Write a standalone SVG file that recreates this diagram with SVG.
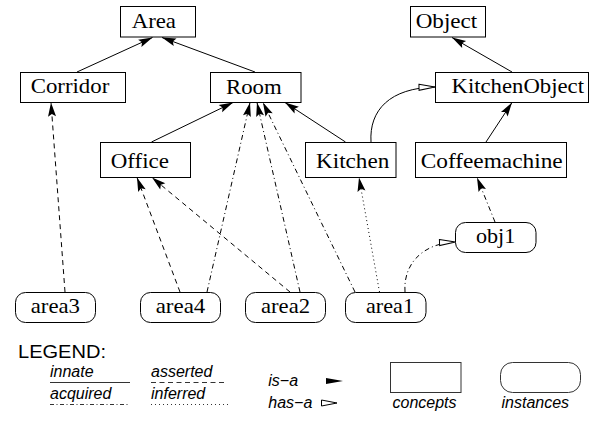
<svg xmlns="http://www.w3.org/2000/svg" width="600" height="421" viewBox="0 0 600 421">
<style>
.box{fill:#fff;stroke:#000;stroke-width:1}
.lab{font-size:21px;fill:#000}
.leg{font-size:16px;font-style:italic;fill:#000}
.e{fill:none;stroke:#000;stroke-width:1}
.dash{stroke-dasharray:5,4}
.dd{stroke-dasharray:5,3,1,3}
.dot{stroke-dasharray:1,3}
.isa{marker-end:url(#isa)}
.hasa{marker-end:url(#hasa)}
.lg{fill:none;stroke:#333;stroke-width:1}
</style>
<defs>
<marker id="isa" markerUnits="userSpaceOnUse" markerWidth="14" markerHeight="8" refX="14" refY="4" orient="auto" overflow="visible">
<path d="M0,0 L14,4 L0,8 L2.5,4 Z" fill="#000"/>
</marker>
<marker id="hasa" markerUnits="userSpaceOnUse" markerWidth="16" markerHeight="7" refX="16" refY="3.5" orient="auto" overflow="visible">
<path d="M0,0.5 L16,3.5 L0,6.5 Z" fill="#fff" stroke="#000" stroke-width="1" stroke-dasharray="none"/>
</marker>
</defs>

<g id="connectors">
<path class="e isa" d="M77,72 L152.5,37.5"/>
<path class="e isa" d="M255,72 L162,37.5"/>
<path class="e isa" d="M151.5,142 L233,102.5"/>
<path class="e isa" d="M345.5,142 L285,102.5"/>
<path class="e isa" d="M512,72 L452,37.5"/>
<path class="e isa" d="M486,142 L512,102.5"/>
<path class="e hasa" d="M371,142 C369,110 390,88 435,87"/>
<path class="e dash isa" d="M65,292 L51,102.5"/>
<path class="e dash isa" d="M180,292 L137,177.5"/>
<path class="e dash isa" d="M290,292 L152,177.5"/>
<path class="e dd isa" d="M207,292 L250,102.5"/>
<path class="e dd isa" d="M300,292 L257,102.5"/>
<path class="e dd isa" d="M355,292 L263,102.5"/>
<path class="e dot isa" d="M379.5,292 L359,177.5"/>
<path class="e dd isa" d="M495,222 L477,177.5"/>
<path class="e dd hasa" d="M405,292 C403,262 425,243 455.5,242"/>
</g>

<g font-family="'Liberation Serif', 'Times New Roman', serif">
<g id="Area"><rect class="box" x="120.5" y="6.5" width="75" height="30.5"/><text class="lab" x="131.7" y="27.5" textLength="44.3" lengthAdjust="spacingAndGlyphs">Area</text></g>
<g id="Object"><rect class="box" x="410.5" y="6.5" width="75" height="30.5"/><text class="lab" x="415.7" y="27.5" textLength="61.6" lengthAdjust="spacingAndGlyphs">Object</text></g>
<g id="Corridor"><rect class="box" x="20.5" y="72.5" width="105" height="30"/><text class="lab" x="30.7" y="92.5" textLength="78.6" lengthAdjust="spacingAndGlyphs">Corridor</text></g>
<g id="Room"><rect class="box" x="210.5" y="72.5" width="90.5" height="30"/><text class="lab" x="226" y="93.5" textLength="55.7" lengthAdjust="spacingAndGlyphs">Room</text></g>
<g id="KitchenObject"><rect class="box" x="435.5" y="72.5" width="153" height="30"/><text class="lab" x="451.5" y="92.5" textLength="132.5" lengthAdjust="spacingAndGlyphs">KitchenObject</text></g>
<g id="Office"><rect class="box" x="100.5" y="142.5" width="90" height="35"/><text class="lab" x="110.7" y="167.7" textLength="58.3" lengthAdjust="spacingAndGlyphs">Office</text></g>
<g id="Kitchen"><rect class="box" x="305.5" y="142.5" width="90.5" height="35"/><text class="lab" x="316" y="167.7" textLength="73.3" lengthAdjust="spacingAndGlyphs">Kitchen</text></g>
<g id="Coffeemachine"><rect class="box" x="415.5" y="142.5" width="151" height="35"/><text class="lab" x="420.7" y="167.7" textLength="142" lengthAdjust="spacingAndGlyphs">Coffeemachine</text></g>
<g id="obj1"><rect class="box" x="455.5" y="222.5" width="80.5" height="30" rx="10"/><text class="lab" x="476" y="243.3" textLength="39.3" lengthAdjust="spacingAndGlyphs">obj1</text></g>
<g id="area3"><rect class="box" x="15.5" y="292.5" width="80" height="30" rx="10"/><text class="lab" x="30.7" y="313.3" textLength="49.3" lengthAdjust="spacingAndGlyphs">area3</text></g>
<g id="area4"><rect class="box" x="140.5" y="292.5" width="80" height="30" rx="10"/><text class="lab" x="155.7" y="313.3" textLength="49.6" lengthAdjust="spacingAndGlyphs">area4</text></g>
<g id="area2"><rect class="box" x="245.5" y="292.5" width="80" height="30" rx="10"/><text class="lab" x="261" y="313.3" textLength="49" lengthAdjust="spacingAndGlyphs">area2</text></g>
<g id="area1"><rect class="box" x="345.5" y="292.5" width="80.5" height="30" rx="10"/><text class="lab" x="366" y="313.3" textLength="48" lengthAdjust="spacingAndGlyphs">area1</text></g>
</g>

<g id="legend" font-family="'Liberation Sans', Arial, sans-serif">
<text x="18" y="357.5" font-size="18" textLength="88" lengthAdjust="spacingAndGlyphs">LEGEND:</text>
<text class="leg" x="50" y="377">innate</text>
<line class="lg" x1="50" y1="382.5" x2="130" y2="382.5"/>
<text class="leg" x="151" y="377">asserted</text>
<line class="lg" x1="151" y1="382.5" x2="224" y2="382.5" stroke-dasharray="5,3.5"/>
<text class="leg" x="50" y="399">acquired</text>
<line class="lg" x1="50" y1="404.5" x2="130" y2="404.5" stroke-dasharray="4,2.5,1,2.5"/>
<text class="leg" x="151" y="399">inferred</text>
<line class="lg" x1="151" y1="404.5" x2="228" y2="404.5" stroke-dasharray="1,3"/>
<text class="leg" x="268.3" y="386">is−a</text>
<path d="M326,378 L343,381 L326,384 Z" fill="#000"/>
<text class="leg" x="268.3" y="408">has−a</text>
<path d="M321.5,400 L337,403 L321.5,406 Z" fill="#fff" stroke="#000" stroke-width="1"/>
<rect x="390.5" y="362.5" width="70.5" height="30" fill="#fff" stroke="#333"/>
<text class="leg" x="392.5" y="408">concepts</text>
<rect x="500.5" y="362.5" width="80" height="30" rx="12" fill="#fff" stroke="#333"/>
<text class="leg" x="501.5" y="408">instances</text>
</g>
</svg>
